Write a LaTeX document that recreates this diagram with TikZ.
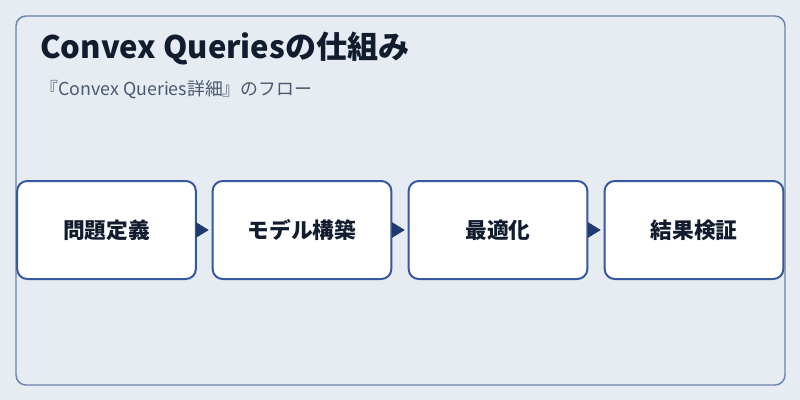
\documentclass[tikz,border=0pt]{standalone}
\usepackage{fontspec}
\usepackage{xcolor}
\setmainfont{Noto Sans CJK JP}
\usetikzlibrary{arrows.meta}

\definecolor{bgcol}{HTML}{E7ECF2}
\definecolor{framecol}{HTML}{6A82AE}
\definecolor{boxcol}{HTML}{3558A0}
\definecolor{arrowcol}{HTML}{1E3A6E}
\definecolor{titlecol}{HTML}{111C2E}
\definecolor{subcol}{HTML}{4A5870}

\tikzset{
  stepbox/.style={draw=boxcol, line width=1.5pt, fill=white, rounded corners=7.5pt,
    minimum width=134pt, minimum height=73.5pt, inner sep=0pt,
    font=\fontsize{16.3}{19}\selectfont\bfseries, text=titlecol},
  flow/.style={-{Triangle[length=9.5pt,width=11.5pt]}, arrowcol, line width=0.6pt, shorten >=2.2pt}
}

\begin{document}
\begin{tikzpicture}[x=0.75pt,y=-0.75pt]
  \useasboundingbox (0,0) rectangle (800,400);
  \fill[bgcol] (0,0) rectangle (800,400);
  \draw[framecol, line width=1.1pt, rounded corners=7.5pt] (16,16) rectangle (785,385);

  \node[anchor=base west, font=\fontsize{23.3}{28}\selectfont\bfseries, text=titlecol, inner sep=0pt] (title) at (40,58) {Convex Queriesの仕組み};
  \node[anchor=base west, font=\fontsize{13.4}{16}\selectfont, text=subcol, inner sep=0pt] (subtitle) at (40,95) {『Convex Queries詳細』のフロー};

  \node[stepbox] (define) at (106.5,230) {問題定義};
  \node[stepbox] (model) at (302,230) {モデル構築};
  \node[stepbox] (optim) at (498,230) {最適化};
  \node[stepbox] (verify) at (694,230) {結果検証};

  \draw[flow] (define) -- (model);
  \draw[flow] (model) -- (optim);
  \draw[flow] (optim) -- (verify);
\end{tikzpicture}
\end{document}
